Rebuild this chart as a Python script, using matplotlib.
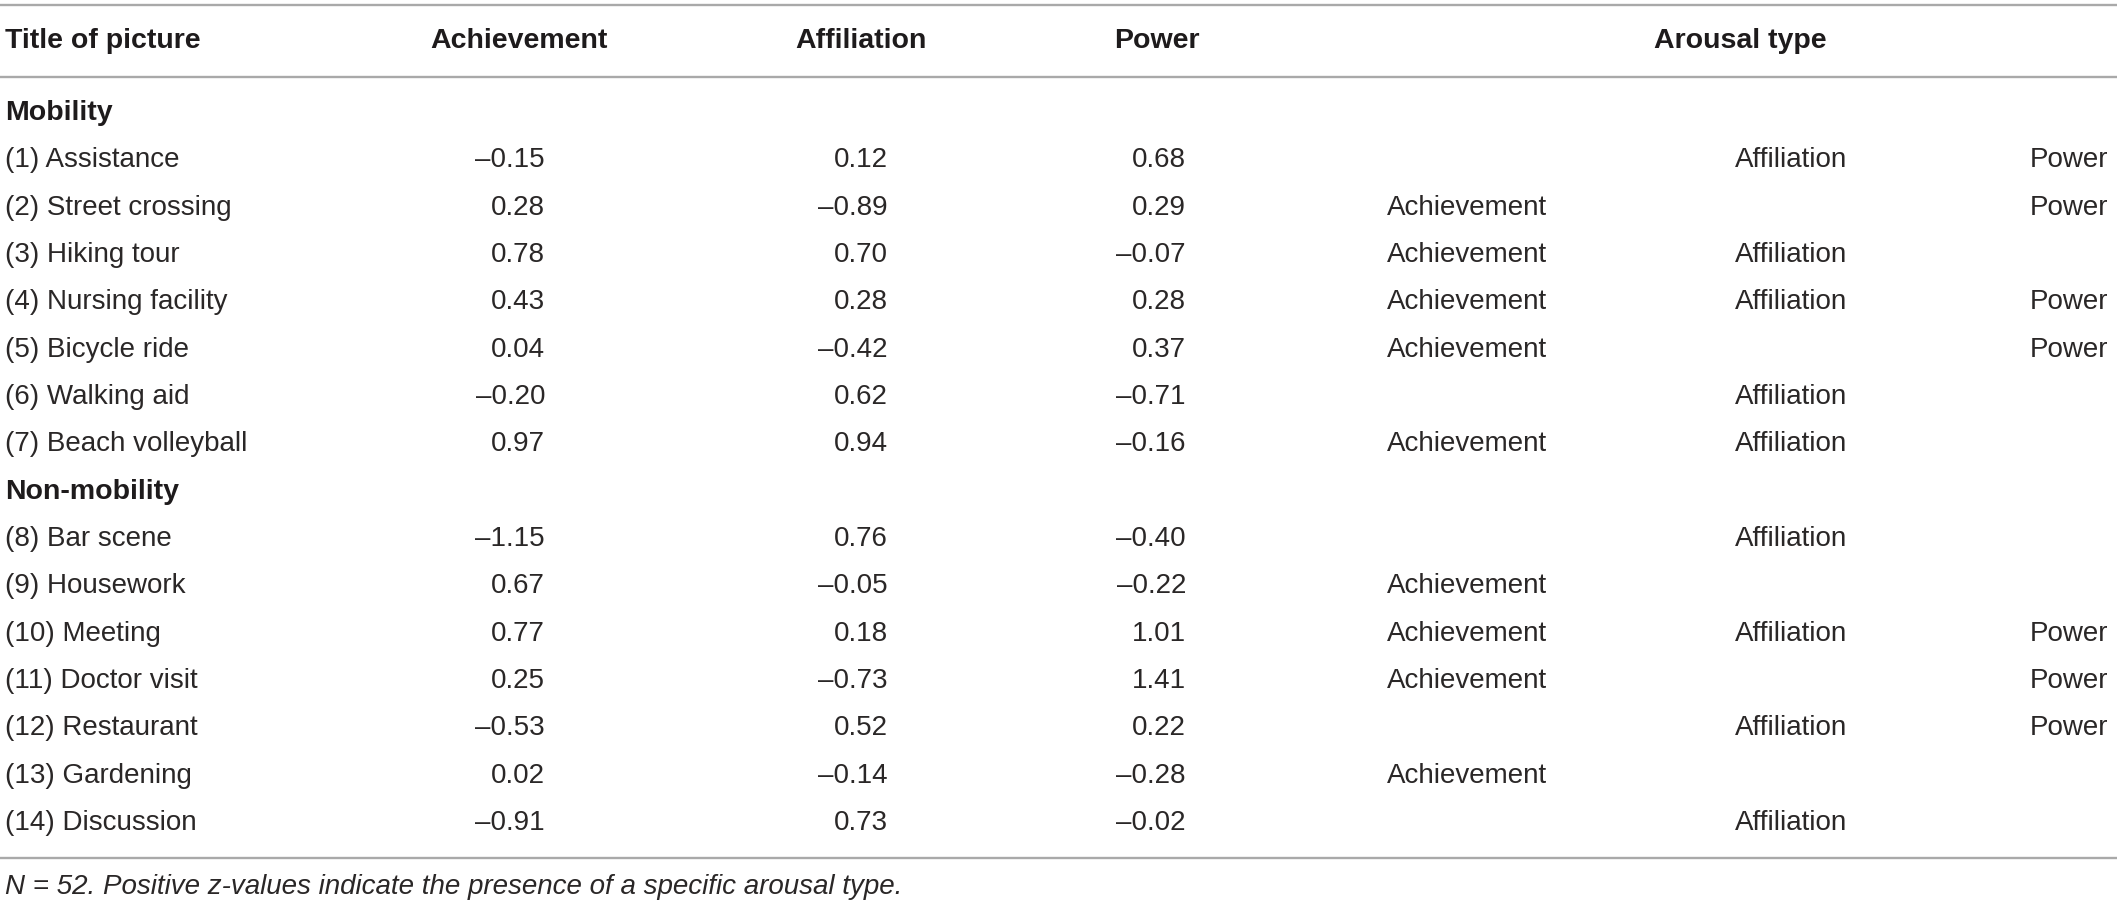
import matplotlib
matplotlib.use("Agg")
import matplotlib.pyplot as plt

# table content
headers = ["Title of picture", "Achievement", "Affiliation", "Power", "Arousal type"]
groups = ["Mobility", "Non-mobility"]
group_sizes = [7, 7]
titles = ["(1) Assistance", "(2) Street crossing", "(3) Hiking tour", "(4) Nursing facility",
          "(5) Bicycle ride", "(6) Walking aid", "(7) Beach volleyball",
          "(8) Bar scene", "(9) Housework", "(10) Meeting", "(11) Doctor visit",
          "(12) Restaurant", "(13) Gardening", "(14) Discussion"]
achievement = [-0.15, 0.28, 0.78, 0.43, 0.04, -0.20, 0.97,
               -1.15, 0.67, 0.77, 0.25, -0.53, 0.02, -0.91]
affiliation = [0.12, -0.89, 0.70, 0.28, -0.42, 0.62, 0.94,
               0.76, -0.05, 0.18, -0.73, 0.52, -0.14, 0.73]
power = [0.68, 0.29, -0.07, 0.28, 0.37, -0.71, -0.16,
         -0.40, -0.22, 1.01, 1.41, 0.22, -0.28, -0.02]
arousal_names = ["Achievement", "Affiliation", "Power"]
note = "N = 52. Positive z-values indicate the presence of a specific arousal type."

W, H = 2117, 906
fig = plt.figure(figsize=(W / 100, H / 100), dpi=100)
ax = fig.add_axes([0, 0, 1, 1])
ax.set_xlim(0, W)
ax.set_ylim(H, 0)
ax.axis("off")

txt = "#2a2727"
line_col = "#a9a9a9"
fs = 20
body = dict(fontsize=fs, color=txt, family="Liberation Sans", va="center")
bold = dict(fontsize=20.5, color="#1e1b1c", family="Liberation Sans", weight="bold", va="center")

def fmt(v):
    s = "%.2f" % abs(v)
    return ("\u2013" + s) if v < 0 else s

# rules
for y in [5, 77, 858]:
    ax.plot([0, W], [y, y], color=line_col, lw=1.7, solid_capstyle="butt")

# header
head_y = 41
ax.text(5, head_y, headers[0], ha="left", **bold)
ax.text(519, head_y, headers[1], ha="center", **bold)
ax.text(861, head_y, headers[2], ha="center", **bold)
ax.text(1157, head_y, headers[3], ha="center", **bold)
ax.text(1740, head_y, headers[4], ha="center", **bold)

num_right = [545, 888, 1186]
arousal_x = [(1387, "left"), (1735, "left"), (2108, "right")]

y0 = 113
step = 47.33
row = 0
k = 0
for g, n in zip(groups, group_sizes):
    ax.text(5, y0 + row * step, g, ha="left", **bold)
    row += 1
    for _ in range(n):
        y = y0 + row * step
        vals = [achievement[k], affiliation[k], power[k]]
        ax.text(5, y, titles[k], ha="left", **body)
        for x, v in zip(num_right, vals):
            ax.text(x, y, fmt(v), ha="right", **body)
        for (x, ha), name, v in zip(arousal_x, arousal_names, vals):
            if v > 0:
                ax.text(x, y, name, ha=ha, **body)
        row += 1
        k += 1

ax.text(5, 887, note, ha="left", style="italic", **body)

fig.savefig("out.png", dpi=100)
